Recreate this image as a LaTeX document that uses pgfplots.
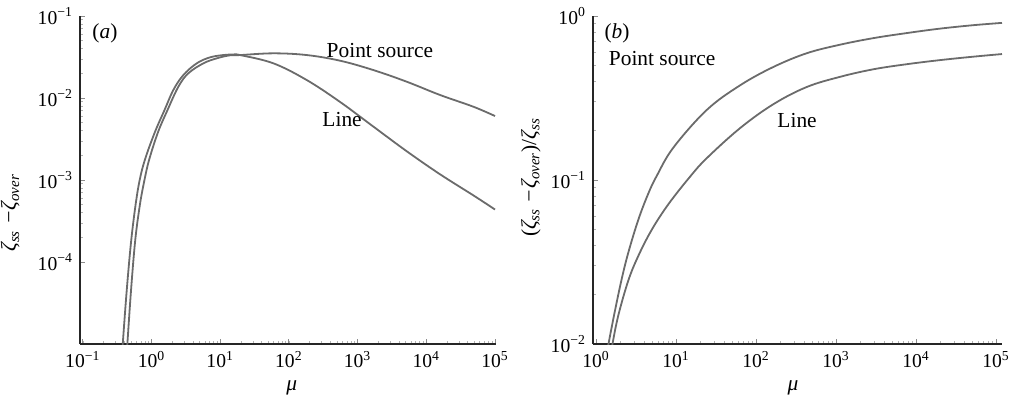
\documentclass[border=0pt]{standalone}
\usepackage{fontspec}
\setmainfont{Liberation Serif}
\usepackage{pgfplots}
\pgfplotsset{compat=1.18}

\definecolor{curvegray}{gray}{0.42}

\tikzset{
  soltrace/.style={draw=curvegray, line width=0.9pt, smooth, tension=0.6},
  annot/.style={font=\fontsize{10.7}{12}\selectfont, anchor=center},
}

\pgfplotsset{
  every axis/.append style={
    scale only axis,
    height=164pt,
    axis lines*=left,
    axis line style={black!85, line width=0.6pt},
    tick align=inside,
    major tick length=2.5pt,
    minor tick length=1.5pt,
    every tick/.style={black!45, line width=0.4pt},
    every minor tick/.style={black!30, line width=0.3pt},
    tick label style={font=\fontsize{9.8}{11}\selectfont},
    every axis label/.append style={font=\fontsize{10.7}{12}\selectfont},
  },
}

\begin{document}
\begin{tikzpicture}
\path[use as bounding box] (-40pt,-28.5pt) rectangle (476pt,172pt);

% (a) difference of the two heights
\begin{axis}[
  xmode=log, ymode=log,
  at={(0,0)}, anchor=south west,
  width=208pt,
  xmin=0.091, xmax=1.035e5,
  ymin=1e-5, ymax=1e-1,
  xtick={0.1,1,10,100,1000,10000,100000},
  xticklabels={10\textsuperscript{−1},10\textsuperscript{0},10\textsuperscript{1},10\textsuperscript{2},10\textsuperscript{3},10\textsuperscript{4},10\textsuperscript{5}},
  ytick={1e-4,1e-3,1e-2,1e-1},
  yticklabels={10\textsuperscript{−4},10\textsuperscript{−3},10\textsuperscript{−2},10\textsuperscript{−1}},
  xlabel={\textit{μ}},
  xlabel style={at={(axis description cs:0.509,-0.134)}, anchor=center},
  ylabel={\textit{ζ\textsubscript{ss} −ζ\textsubscript{over}}},
  ylabel style={at={(axis description cs:-0.168,0.40)}, anchor=center, rotate=0},
]
% line source
\addplot[soltrace] coordinates {
  (0.3676,6.383e-6) (0.3814,1.0e-5) (0.4363,4.560e-5) (0.5073,1.854e-4)
  (0.5999,5.702e-4) (0.6976,1.151e-3) (0.8443,2.018e-3) (1.1532,4.074e-3)
  (1.5488,7.145e-3) (2.0797,0.01253) (2.9087,0.01905) (4.5573,0.02649)
  (7.1155,0.03133) (11.115,0.03342) (15.539,0.03393) (19.454,0.03342)
  (59.43,0.02649) (181.97,0.01656) (555.9,8.954e-3) (1694,4.487e-3)
  (5188,2.244e-3) (15849,1.175e-3) (48420,6.501e-4) (100230,4.365e-4)
};
% point source
\addplot[soltrace] coordinates {
  (0.4304,6.383e-6) (0.4451,1.0e-5) (0.5039,4.560e-5) (0.5800,1.854e-4)
  (0.6768,4.955e-4) (0.7793,9.462e-4) (0.9213,1.754e-3) (1.2456,3.846e-3)
  (1.6846,6.934e-3) (2.4604,0.01374) (3.4356,0.02000) (5.6885,0.02649)
  (8.9125,0.03048) (13.900,0.03319) (19.454,0.03342) (59.43,0.03508)
  (181.97,0.03342) (555.9,0.02851) (1694,0.02193) (5188,0.01581)
  (15849,0.01089) (48420,7.834e-3) (100230,6.026e-3)
};
\node[annot] at (axis description cs:0.060,0.948) {(\textit{a})};
\node[annot] at (axis description cs:0.721,0.896) {Point source};
\node[annot] at (axis description cs:0.630,0.683) {Line};
\end{axis}

% (b) relative difference
\begin{axis}[
  xmode=log, ymode=log,
  at={(256.5pt,0)}, anchor=south west,
  width=204.5pt,
  xmin=0.917, xmax=1.189e5,
  ymin=1e-2, ymax=1,
  xtick={1,10,100,1000,10000,100000},
  xticklabels={10\textsuperscript{0},10\textsuperscript{1},10\textsuperscript{2},10\textsuperscript{3},10\textsuperscript{4},10\textsuperscript{5}},
  ytick={0.01,0.1,1},
  yticklabels={10\textsuperscript{−2},10\textsuperscript{−1},10\textsuperscript{0}},
  xlabel={\textit{μ}},
  xlabel style={at={(axis description cs:0.489,-0.134)}, anchor=center},
  ylabel={(\textit{ζ\textsubscript{ss} −ζ\textsubscript{over}})/\textit{ζ\textsubscript{ss}}},
  ylabel style={at={(axis description cs:-0.152,0.508)}, anchor=center, rotate=0},
]
% point source
\addplot[soltrace] coordinates {
  (1.3804,8.710e-3) (1.4256,9.886e-3) (1.7278,0.01600) (2.0941,0.02489)
  (2.5351,0.03614) (3.3806,0.05728) (4.5082,0.08279) (5.7412,0.1059)
  (9.2470,0.1574) (24.210,0.2673) (63.096,0.3776) (164.44,0.4887)
  (430.5,0.5929) (1122,0.6683) (2924,0.7328) (7656,0.7870)
  (19953,0.8375) (52000,0.8790) (118850,0.9078)
};
% line source
\addplot[soltrace] coordinates {
  (1.5488,8.710e-3) (1.5996,9.886e-3) (1.9011,0.01496) (2.5351,0.02440)
  (3.3806,0.03447) (4.9659,0.04966) (8.0168,0.07112) (14.962,0.1047)
  (24.210,0.1358) (63.096,0.2070) (164.44,0.2897) (430.5,0.3690)
  (1122,0.4256) (2924,0.4732) (7656,0.5082) (19953,0.5383)
  (52000,0.5649) (118850,0.5861)
};
\node[annot] at (axis description cs:0.0587,0.948) {(\textit{b})};
\node[annot] at (axis description cs:0.169,0.869) {Point source};
\node[annot] at (axis description cs:0.499,0.680) {Line};
\end{axis}
\end{tikzpicture}
\end{document}
